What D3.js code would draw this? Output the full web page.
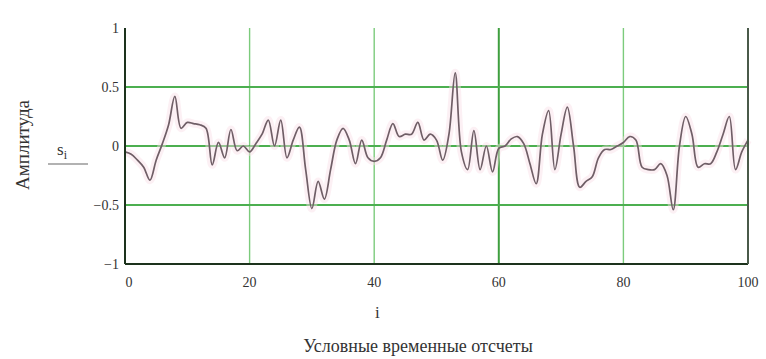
<!DOCTYPE html>
<html lang="ru">
  <head>
    <meta charset="utf-8">
    <title>Амплитуда</title>
    <script src="https://cdnjs.cloudflare.com/ajax/libs/d3/7.8.5/d3.min.js"></script>
    <style>
      body { margin: 0; background: #fff; }
      text { font-family: "Liberation Serif", "DejaVu Serif", serif; fill: #333; }
    </style>
  </head>
  <body>
    <svg width="766" height="359"></svg>
    <script>
      // signal samples, i = 0..100
      var samples = [
        -0.05, -0.07, -0.12, -0.18, -0.29, -0.12, 0.02, 0.18, 0.42, 0.15,
        0.20, 0.19, 0.18, 0.15, -0.16, 0.03, -0.10, 0.14, -0.04, 0.00,
        -0.05, 0.02, 0.10, 0.22, 0.00, 0.22, -0.10, 0.05, 0.16, -0.20,
        -0.53, -0.30, -0.45, -0.20, 0.05, 0.15, 0.05, -0.15, 0.05, -0.10,
        -0.13, -0.10, 0.05, 0.19, 0.08, 0.10, 0.10, 0.20, 0.05, 0.10,
        0.05, -0.12, 0.10, 0.62, -0.05, -0.20, 0.13, -0.20, 0.00, -0.22,
        -0.02, 0.00, 0.06, 0.08, 0.02, -0.15, -0.32, 0.10, 0.30, -0.20,
        0.10, 0.33, 0.00, -0.35, -0.30, -0.26, -0.10, -0.03, -0.03, 0.00,
        0.03, 0.08, 0.05, -0.18, -0.20, -0.20, -0.15, -0.25, -0.54, 0.00,
        0.25, 0.10, -0.18, -0.15, -0.15, -0.05, 0.10, 0.25, -0.20, -0.05,
        0.05
      ];
      var xTicks = [0, 20, 40, 60, 80, 100];
      var yTicks = [-1, -0.5, 0, 0.5, 1];
      var yLabel = "Амплитуда";
      var xLabel = "Условные временные отсчеты";

      var svg = d3.select("svg");
      var margin = {top: 28, right: 18, bottom: 95, left: 125};
      var width = 766 - margin.left - margin.right,
          height = 359 - margin.top - margin.bottom;

      var x = d3.scaleLinear().domain([0, 100]).range([0, width]);
      var y = d3.scaleLinear().domain([-1, 1]).range([height, 0]);

      var g = svg.append("g")
          .attr("transform", "translate(" + margin.left + "," + margin.top + ")");

      // vertical grid
      g.selectAll(".vgrid")
        .data(xTicks.filter(function(d) { return d > 0 && d < 100; }))
        .enter().append("line")
          .attr("x1", function(d) { return x(d); })
          .attr("x2", function(d) { return x(d); })
          .attr("y1", 0)
          .attr("y2", height)
          .attr("stroke", function(d) { return d == 60 ? "#3f9f3f" : "#7ccb7c"; })
          .attr("stroke-width", function(d) { return d == 60 ? 2 : 1.4; });

      // horizontal grid
      g.selectAll(".hgrid")
        .data(yTicks.filter(function(d) { return d > -1 && d < 1; }))
        .enter().append("line")
          .attr("x1", 0)
          .attr("x2", width)
          .attr("y1", function(d) { return y(d); })
          .attr("y2", function(d) { return y(d); })
          .attr("stroke", "#4caf50")
          .attr("stroke-width", 2.2);

      // signal line with a faint pink halo
      var line = d3.line()
          .x(function(d, i) { return x(i); })
          .y(function(d) { return y(d); })
          .curve(d3.curveCatmullRom.alpha(0.5));

      g.append("path")
        .datum(samples)
        .attr("fill", "none")
        .attr("stroke", "#f8dde6")
        .attr("stroke-width", 8)
        .attr("opacity", 0.45)
        .attr("d", line);

      g.append("path")
        .datum(samples)
        .attr("fill", "none")
        .attr("stroke", "#6f5e66")
        .attr("stroke-width", 1.7)
        .attr("d", line);

      // frame
      g.append("line").attr("x1", 0).attr("x2", 0).attr("y1", 0).attr("y2", height)
        .attr("stroke", "#1d331d").attr("stroke-width", 2);
      g.append("line").attr("x1", 0).attr("x2", width).attr("y1", height).attr("y2", height)
        .attr("stroke", "#1d331d").attr("stroke-width", 2);
      g.append("line").attr("x1", width).attr("x2", width).attr("y1", 0).attr("y2", height)
        .attr("stroke", "#4a5a4a").attr("stroke-width", 2);

      // y tick labels
      g.selectAll(".ylab")
        .data(yTicks)
        .enter().append("text")
          .attr("x", -6)
          .attr("y", function(d) { return y(d) + 5; })
          .attr("text-anchor", "end")
          .attr("font-size", 14)
          .text(function(d) { return d < 0 ? "\u2212" + Math.abs(d) : d; });

      // x tick labels
      g.selectAll(".xlab")
        .data(xTicks)
        .enter().append("text")
          .attr("x", function(d) { return x(d) + (d == 0 ? 4 : 0); })
          .attr("y", height + 23)
          .attr("text-anchor", "middle")
          .attr("font-size", 14)
          .text(function(d) { return d; });

      // axis variable names
      g.append("text")
        .attr("x", x(40.5))
        .attr("y", height + 54)
        .attr("text-anchor", "middle")
        .attr("font-size", 17)
        .text("i");

      var sLab = svg.append("text")
        .attr("x", 62)
        .attr("y", 155)
        .attr("text-anchor", "middle")
        .attr("font-size", 17);
      sLab.append("tspan").text("s");
      sLab.append("tspan").attr("dy", 4).attr("font-size", 12).text("i");
      svg.append("line")
        .attr("x1", 48).attr("x2", 88).attr("y1", 164).attr("y2", 164)
        .attr("stroke", "#999").attr("stroke-width", 1.5);

      // titles
      svg.append("text")
        .attr("transform", "translate(29,145) rotate(-90)")
        .attr("text-anchor", "middle")
        .attr("font-size", 19)
        .text(yLabel);

      svg.append("text")
        .attr("x", 418)
        .attr("y", 352)
        .attr("text-anchor", "middle")
        .attr("font-size", 18)
        .text(xLabel);
    </script>
  </body>
</html>
